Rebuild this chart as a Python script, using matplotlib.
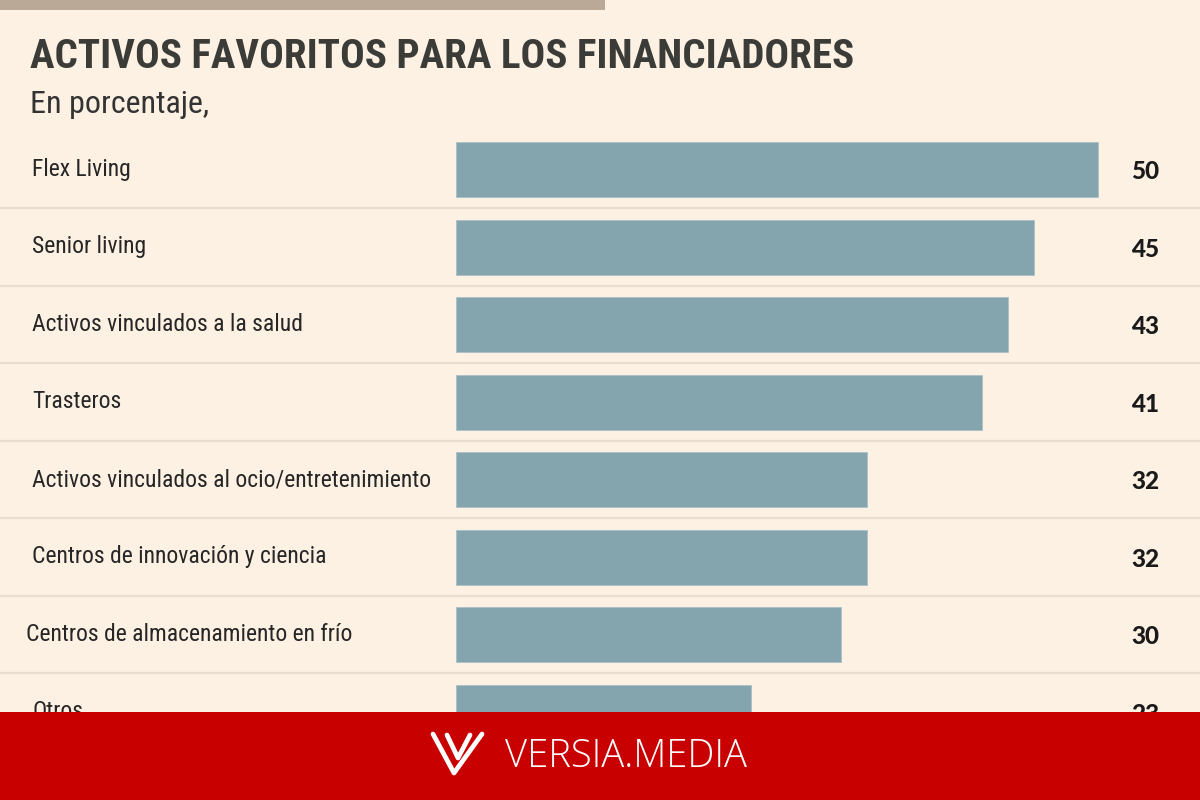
"""
Horizontal bar chart: activos favoritos para los financiadores.
"""

import matplotlib

matplotlib.use("Agg")
import matplotlib.pyplot as plt
from matplotlib import font_manager
from matplotlib.patches import Rectangle
from matplotlib.lines import Line2D
from matplotlib.transforms import blended_transform_factory

categories = [
    "Flex Living",
    "Senior living",
    "Activos vinculados a la salud",
    "Trasteros",
    "Activos vinculados al ocio/entretenimiento",
    "Centros de innovación y ciencia",
    "Centros de almacenamiento en frío",
    "Otros",
]
values = [50, 45, 43, 41, 32, 32, 30, 23]

title = "ACTIVOS FAVORITOS PARA LOS FINANCIADORES"
subtitle = "En porcentaje,"
brand = "VERSIA.MEDIA"

BG = "#fdf1e3"
BAR = "#84a5ad"
GRID = "#e9ddd0"
RED = "#c80000"

available = {f.name for f in font_manager.fontManager.ttflist}


def pick(*names):
    for n in names:
        if n in available:
            return n
    return "DejaVu Sans"


narrow = pick("Roboto Condensed", "Liberation Sans Narrow", "Roboto")
brandfont = pick("Open Sans", "Roboto")
numfont = pick("Lato", "Open Sans")

W, H = 1200, 800
fig = plt.figure(figsize=(12, 8), dpi=100, facecolor=BG)

# axes covers the whole canvas; data limits put bar origin at x=456px and 50 at 1098px
px_per_unit = (1098 - 456) / 50
row_h = 77.5
first_row = 169.5
ax = fig.add_axes([0, 0, 1, 1])
ax.set_facecolor(BG)
ax.set_xlim(-456 / px_per_unit, (W - 456) / px_per_unit)
ax.set_ylim((H - first_row) / row_h, -first_row / row_h)
ax.axis("off")

rows = list(range(len(categories)))
ax.barh(rows, values, height=55 / row_h, color=BAR, edgecolor="#a9c0c5", linewidth=0.6, zorder=2)

for r in rows[:-1]:
    ax.axhline(r + 0.5, color=GRID, linewidth=1.6, zorder=1)

tr = blended_transform_factory(ax.transAxes, ax.transData)
for r, (cat, val) in enumerate(zip(categories, values)):
    xoff = 26 / W if cat.startswith("Centros de alm") else 32 / W
    ax.text(xoff, r, cat, transform=tr, ha="left", va="center",
            fontsize=17, family=narrow, color="#262626", zorder=3)
    ax.text(1159 / W, r + 0.03, str(val), transform=tr, ha="right", va="center",
            fontsize=17.5, family=numfont, weight="black", color="#1a1a1a", zorder=3)

# top tan strip, title, subtitle
fig.add_artist(Rectangle((0, 1 - 10 / H), 605 / W, 10 / H, transform=fig.transFigure,
                         facecolor="#b9a996", edgecolor="none", zorder=5))
fig.text(30 / W, 1 - 68 / H, title, ha="left", va="baseline", fontsize=29.5,
         family=narrow, weight="bold", color="#3b3b38", zorder=6)
fig.text(30 / W, 1 - 113 / H, subtitle, ha="left", va="baseline", fontsize=23,
         family=narrow, color="#333333", zorder=6)

# red footer band with brand
fig.add_artist(Rectangle((0, 0), 1, 88 / H, transform=fig.transFigure,
                         facecolor=RED, edgecolor="none", zorder=10))


def fpx(x, y):
    return x / W, 1 - y / H


for pts in ([(433, 734), (454, 773), (482, 734)], [(447, 735), (458, 758), (470, 735)]):
    xs, ys = zip(*[fpx(x, y) for x, y in pts])
    fig.add_artist(Line2D(xs, ys, transform=fig.transFigure, color="white",
                          linewidth=3.4, solid_capstyle="round", solid_joinstyle="round", zorder=11))
fig.text(505 / W, 1 - 767 / H, brand, ha="left", va="baseline", fontsize=27.5,
         family=brandfont, weight="light", color="white", zorder=11)

fig.savefig("out.png", dpi=100, facecolor=BG)
